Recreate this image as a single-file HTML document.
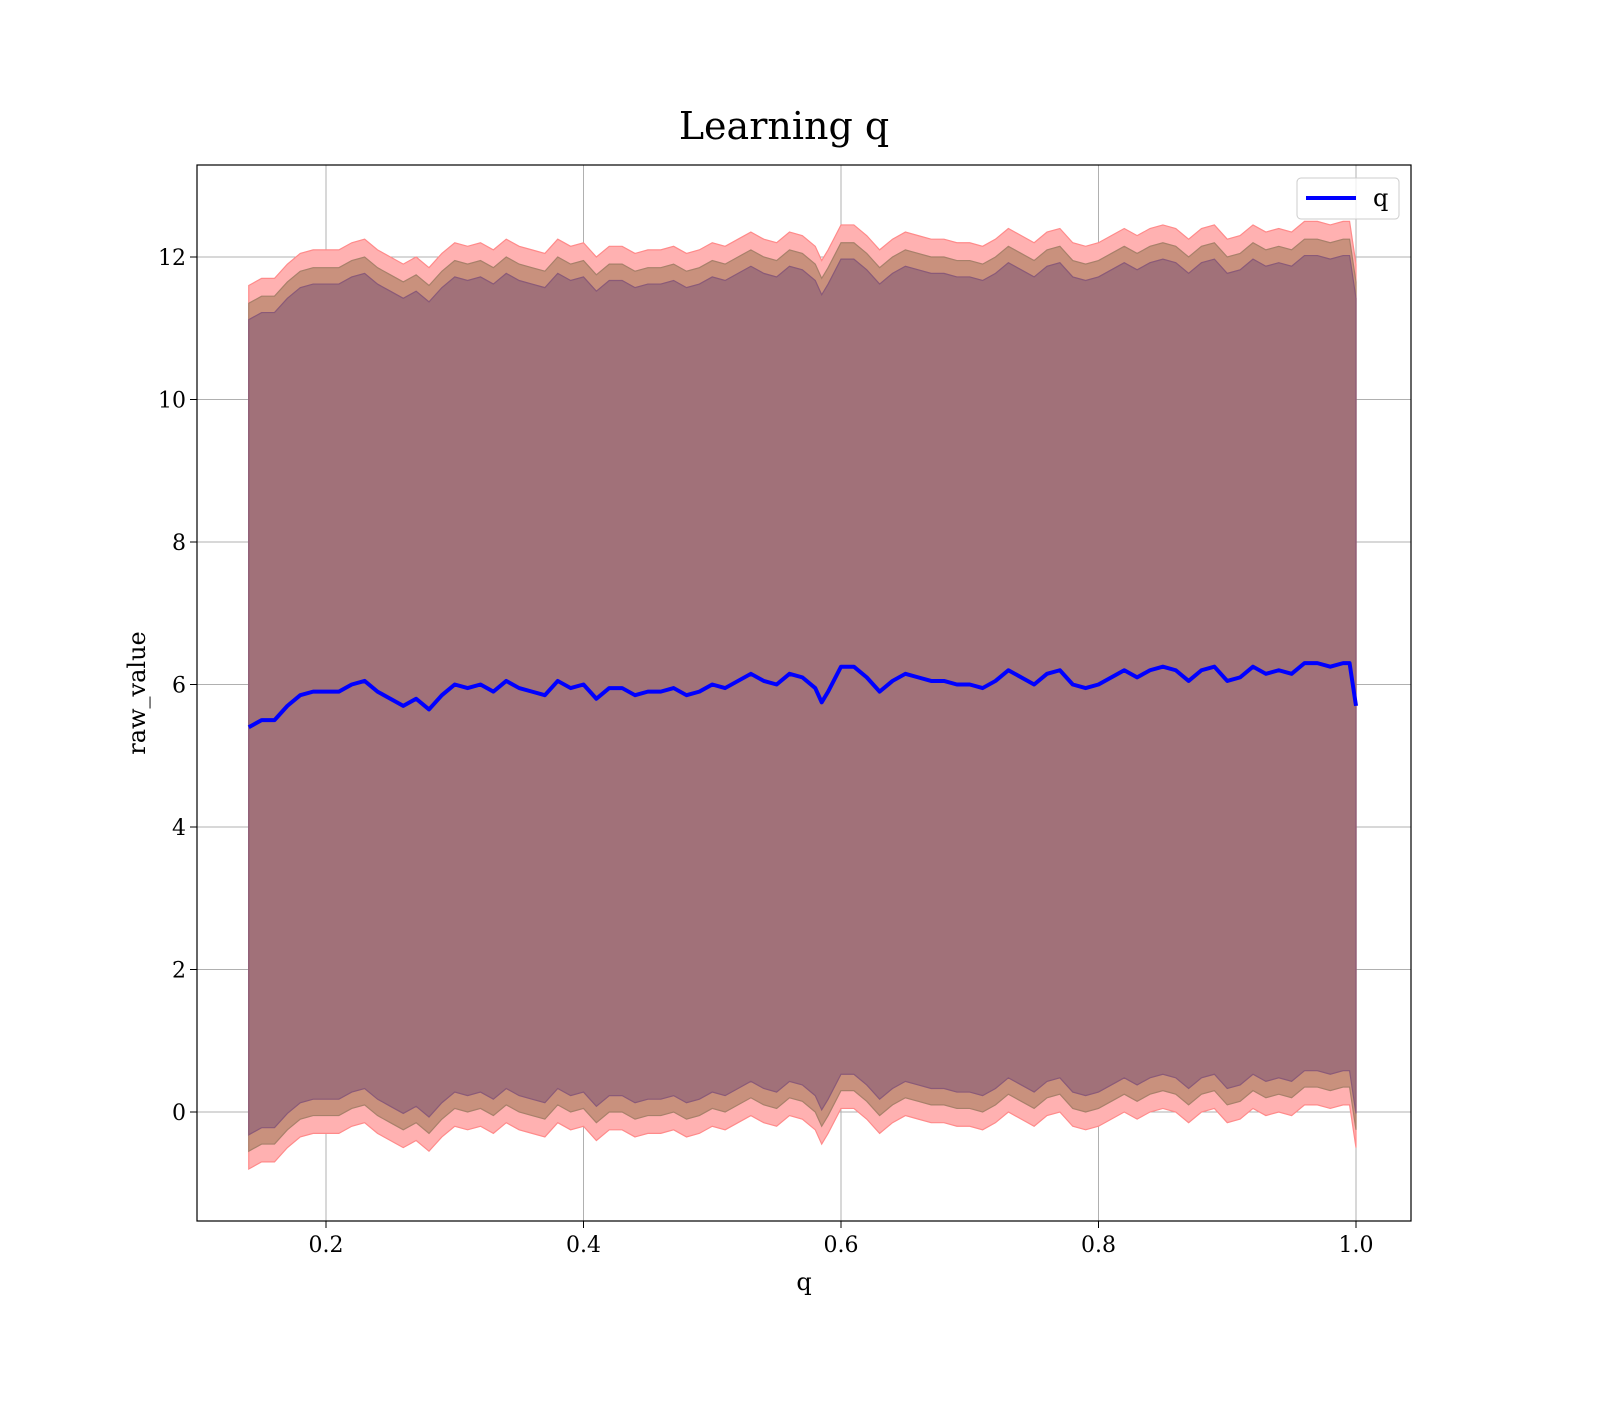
<!DOCTYPE html>
<html><head><meta charset="utf-8"><style>
body{margin:0;background:#fff}
svg text{font-family:"DejaVu Serif","Liberation Serif",serif;fill:#000}
</style></head><body>
<svg width="1600" height="1400" viewBox="0 0 1600 1400">
<text x="784" y="139" font-size="38" text-anchor="middle">Learning q</text>
<g id="grid"></g>
<g id="bands"></g>
<g id="line"></g>
<rect x="197" y="165" width="1214" height="1056" fill="none" stroke="#000" stroke-width="1.2"/>
<g id="ticks"></g>
<text x="804" y="1290" font-size="24" text-anchor="middle">q</text>
<text x="0" y="0" font-size="24" text-anchor="middle" transform="translate(145,693) rotate(-90)">raw_value</text>
<g>
<rect x="1297" y="178" width="102" height="41" rx="4" fill="#fff" fill-opacity="0.8" stroke="#ccc"/>
<line x1="1306" y1="198" x2="1356" y2="198" stroke="#0000ff" stroke-width="4"/>
<text x="1373" y="206" font-size="24">q</text>
</g>
</svg>
<script>
const xs=[0.14,0.15,0.16,0.17,0.18,0.19,0.20,0.21,0.22,0.23,0.24,0.25,0.26,0.27,0.28,0.29,0.30,0.31,0.32,0.33,0.34,0.35,0.36,0.37,0.38,0.39,0.40,0.41,0.42,0.43,0.44,0.45,0.46,0.47,0.48,0.49,0.50,0.51,0.52,0.53,0.54,0.55,0.56,0.57,0.58,0.585,0.59,0.60,0.61,0.62,0.63,0.64,0.65,0.66,0.67,0.68,0.69,0.70,0.71,0.72,0.73,0.74,0.75,0.76,0.77,0.78,0.79,0.80,0.81,0.82,0.83,0.84,0.85,0.86,0.87,0.88,0.89,0.90,0.91,0.92,0.93,0.94,0.95,0.96,0.97,0.98,0.99,0.995,1.0];
const means=[5.4,5.5,5.5,5.7,5.85,5.9,5.9,5.9,6.0,6.05,5.9,5.8,5.7,5.8,5.65,5.85,6.0,5.95,6.0,5.9,6.05,5.95,5.9,5.85,6.05,5.95,6.0,5.8,5.95,5.95,5.85,5.9,5.9,5.95,5.85,5.9,6.0,5.95,6.05,6.15,6.05,6.0,6.15,6.1,5.95,5.75,5.9,6.25,6.25,6.1,5.9,6.05,6.15,6.1,6.05,6.05,6.0,6.0,5.95,6.05,6.2,6.1,6.0,6.15,6.2,6.0,5.95,6.0,6.1,6.2,6.1,6.2,6.25,6.2,6.05,6.2,6.25,6.05,6.1,6.25,6.15,6.2,6.15,6.3,6.3,6.25,6.3,6.3,5.7];
const bandWidths=[6.2,5.95,5.72];
const xTicks=[0.2,0.4,0.6,0.8,1.0];
const yTicks=[0,2,4,6,8,10,12];
const NS="http://www.w3.org/2000/svg";
const X=v=>326+(v-0.2)*1287.5;
const Y=v=>1112-v*71.25;
function mk(p,t,a){const e=document.createElementNS(NS,t);for(const k in a)e.setAttribute(k,a[k]);document.getElementById(p).appendChild(e);return e;}
xTicks.forEach(t=>{
 const g=mk('grid','line',{x1:X(t),x2:X(t),y1:165,y2:1221,stroke:'#b0b0b0','stroke-width':1});
 
 
 const tk=mk('ticks','line',{x1:X(t),x2:X(t),y1:1221,y2:1228,stroke:'#000'});
 
 
 const l=mk('ticks','text',{x:X(t),y:1252,'font-size':22,'text-anchor':'middle'});l.textContent=t.toFixed(1);
 
 
});
yTicks.forEach(t=>{
 const g=mk('grid','line',{x1:197,x2:1411,y1:Y(t),y2:Y(t),stroke:'#b0b0b0','stroke-width':1});
 
 
 const tk=mk('ticks','line',{x1:190,x2:197,y1:Y(t),y2:Y(t),stroke:'#000'});
 
 
 const l=mk('ticks','text',{x:186,y:Y(t)+8,'font-size':22,'text-anchor':'end'});l.textContent=t;
 
 
});
const fills=['#ffb1b1','#c9917d','#a17179'],strokes=['#ff8a8a','#a8806a','#8a5a78'],names=['band-outer','band-middle','band-inner'];
bandWidths.forEach((w,i)=>{
 let d='M'+xs.map((x,j)=>X(x)+','+Y(means[j]+w)).join(' L');
 d+=' L'+xs.slice().reverse().map((x,j)=>X(x)+','+Y(means[xs.length-1-j]-w)).join(' L')+' Z';
 const p=mk('bands','path',{d:d,fill:fills[i],stroke:strokes[i],'stroke-width':1.2});
 
 
});
const ln=mk('line','path',{d:'M'+xs.map((x,j)=>X(x)+','+Y(means[j])).join(' L'),fill:'none',stroke:'#0000ff','stroke-width':4,'stroke-linejoin':'round'});


</script>
</body></html>
